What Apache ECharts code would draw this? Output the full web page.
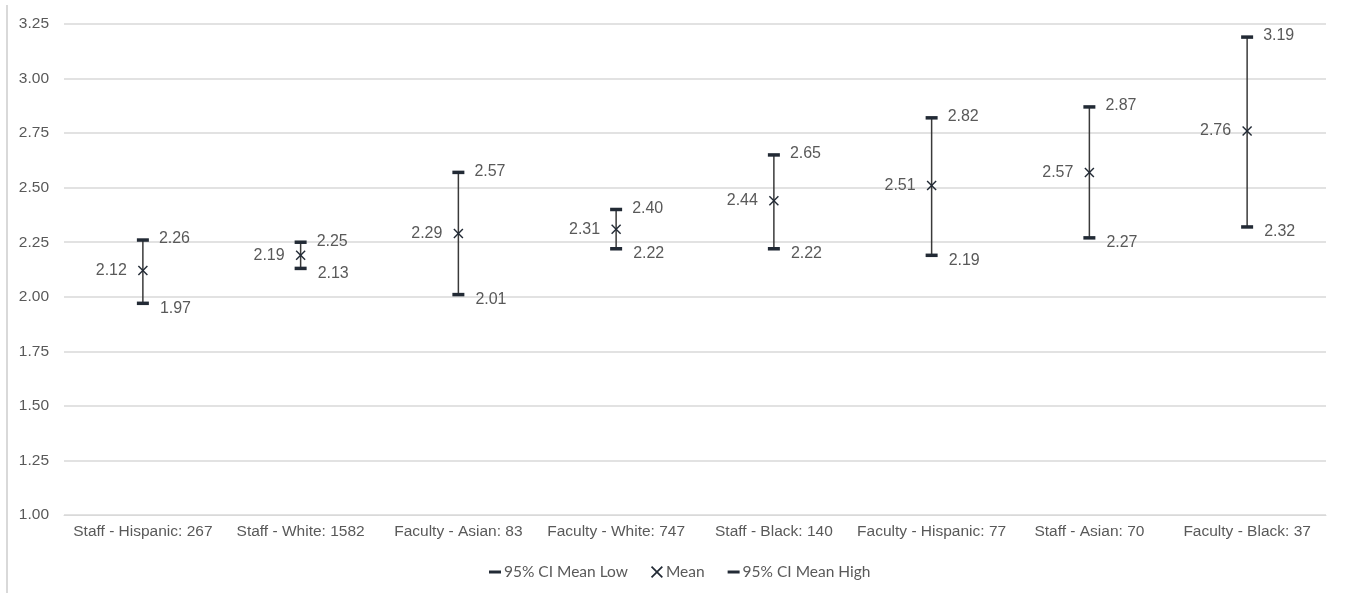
<!DOCTYPE html>
<html>
<head>
<meta charset="utf-8">
<style>
html,body{margin:0;padding:0;background:#fff;}
#chart{width:1346px;height:593px;}
</style>
<script src="https://cdn.jsdelivr.net/npm/echarts@6/dist/echarts.min.js"></script>
</head>
<body>
<div id="chart"></div>
<script>
const categories = ["Staff - Hispanic: 267","Staff - White: 1582","Faculty - Asian: 83","Faculty - White: 747","Staff - Black: 140","Faculty - Hispanic: 77","Staff - Asian: 70","Faculty - Black: 37"];
const lowValues  = [1.97, 2.13, 2.01, 2.22, 2.22, 2.19, 2.27, 2.32];
const meanValues = [2.12, 2.19, 2.29, 2.31, 2.44, 2.51, 2.57, 2.76];
const highValues = [2.26, 2.25, 2.57, 2.40, 2.65, 2.82, 2.87, 3.19];
const yTicks = {min: 1.00, max: 3.25, interval: 0.25};

const markColor = '#222a35';
const labelColor = '#595959';
const dashPath = 'path://M0,0h12v3h-12z';
const xPath = 'path://M0,1L1,0L5,4L9,0L10,1L6,5L10,9L9,10L5,6L1,10L0,9L4,5Z';

const chart = echarts.init(document.getElementById('chart'), null, {renderer:'canvas'});
const fmt = p => Number(p.value[1]).toFixed(2);

chart.setOption({
  animation:false,
  textStyle:{fontFamily:'Liberation Sans, Arial, sans-serif'},
  grid:{left:64, right:20, top:24, bottom:78, containLabel:false},
  xAxis:{
    type:'category', data:categories,
    axisLine:{show:true, lineStyle:{color:'#d9d9d9', width:1}},
    axisTick:{show:false},
    axisLabel:{color:labelColor, fontSize:15.5, margin:9, interval:0}
  },
  yAxis:{
    type:'value', min:yTicks.min, max:yTicks.max, interval:yTicks.interval,
    axisLine:{show:false}, axisTick:{show:false},
    axisLabel:{color:labelColor, fontSize:15.5, margin:15, formatter:v=>v.toFixed(2)},
    splitLine:{lineStyle:{color:'#d9d9d9', width:1.5}}
  },
  legend:{
    bottom:8, left:484, itemGap:23, itemWidth:12, itemHeight:12,
    textStyle:{color:labelColor, fontSize:15.5, fontFamily:'Lato, Liberation Sans, sans-serif', padding:[0,0,0,-2]},
    data:[
      {name:'95% CI Mean Low', icon:dashPath},
      {name:'Mean', icon:xPath},
      {name:'95% CI Mean High', icon:dashPath}
    ]
  },
  graphic:[{type:'line', shape:{x1:7,y1:5,x2:7,y2:593}, style:{stroke:'#d9d9d9', lineWidth:2}, silent:true}],
  series:[
    {
      type:'custom', name:'range', z:1,
      renderItem:(params, api)=>{
        const a = api.coord([api.value(0), api.value(1)]);
        const b = api.coord([api.value(0), api.value(2)]);
        return {type:'line', shape:{x1:a[0], y1:a[1], x2:b[0], y2:b[1]}, style:{stroke:'#3a3a3a', lineWidth:1.5}};
      },
      encode:{x:0, y:[1,2]},
      data: categories.map((c,i)=>[i, lowValues[i], highValues[i]])
    },
    {
      type:'scatter', name:'95% CI Mean Low', z:3,
      symbol:dashPath, symbolSize:[12,3.5], itemStyle:{color:markColor, opacity:1},
      label:{show:true, position:'right', distance:11, offset:[0,5], color:labelColor, fontSize:16, formatter:fmt},
      data: lowValues.map((v,i)=>[i,v])
    },
    {
      type:'scatter', name:'Mean', z:3,
      symbol:xPath, symbolSize:10, itemStyle:{color:markColor, opacity:1},
      label:{show:true, position:'left', distance:11, color:labelColor, fontSize:16, formatter:fmt},
      data: meanValues.map((v,i)=>[i,v])
    },
    {
      type:'scatter', name:'95% CI Mean High', z:3,
      symbol:dashPath, symbolSize:[12,3.5], itemStyle:{color:markColor, opacity:1},
      label:{show:true, position:'right', distance:10, offset:[0,-1], color:labelColor, fontSize:16, formatter:fmt},
      data: highValues.map((v,i)=>[i,v])
    }
  ]
});
</script>
</body>
</html>
